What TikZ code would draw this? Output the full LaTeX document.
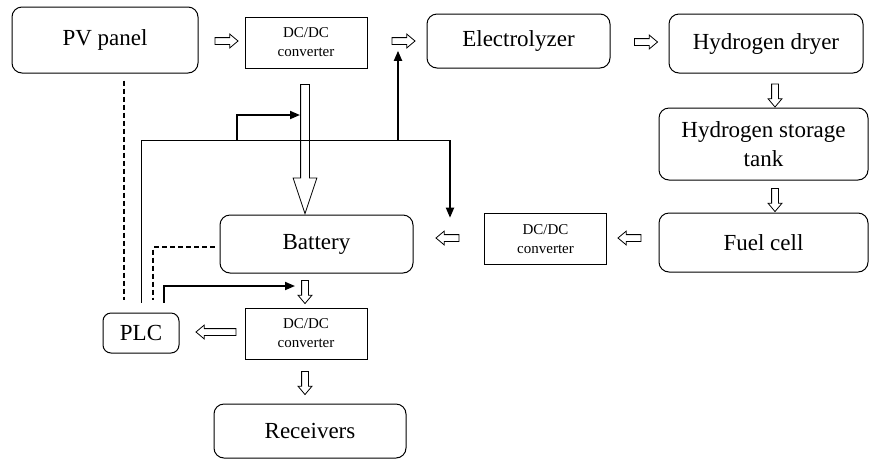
\documentclass[tikz,border=0pt]{standalone}
\usepackage{fontspec}
\setmainfont{Liberation Serif}
\usetikzlibrary{positioning, arrows.meta, calc, shapes.arrows}

\begin{document}
\begin{tikzpicture}[
    x=1pt, y=-1pt,
    block/.style={rectangle, draw, rounded corners=10pt, line width=1pt,
                  inner sep=0pt, align=center, font=\fontsize{23}{29}\selectfont},
    conv/.style={rectangle, draw, line width=0.9pt, minimum width=122pt, minimum height=51pt,
                 inner sep=0pt, align=center, font=\fontsize{15}{19}\selectfont},
    flow/.style={single arrow, draw, line width=0.8pt, inner xsep=0pt, inner ysep=3pt,
                 single arrow head extend=3.5pt, single arrow tip angle=80, minimum height=23pt},
    flowdown/.style={flow, inner xsep=3pt, inner ysep=0pt, shape border rotate=270},
    bigflow/.style={single arrow, draw, line width=0.8pt, inner xsep=4pt, inner ysep=0pt,
                    single arrow head extend=7.5pt, single arrow tip angle=37, minimum height=129pt,
                    shape border rotate=270},
    ctrl/.style={line width=1.8pt, -{Triangle[length=10pt, width=8pt]}},
    wire/.style={line width=1pt},
    sig/.style={line width=1.6pt, dash pattern=on 5pt off 3pt}
  ]
    \useasboundingbox (0,0) rectangle (870,459);

    % boxes
    \node[block, minimum width=186pt, minimum height=66pt] (pv) at (105,40) {PV panel};
    \node[conv] (dcpv) at (306,42.5) {DC/DC\\converter};
    \node[block, minimum width=183pt, minimum height=54pt] (elec) at (518.5,41) {Electrolyzer};
    \node[block, minimum width=194pt, minimum height=59pt] (dryer) at (766,43.5) {Hydrogen dryer};
    \node[block, minimum width=209pt, minimum height=72pt] (tank) at (763.5,144) {Hydrogen storage\\tank};
    \node[block, minimum width=209pt, minimum height=59pt] (fuel) at (763.5,242.5) {Fuel cell};
    \node[conv] (dcfc) at (545.5,239) {DC/DC\\converter};
    \node[block, minimum width=193pt, minimum height=58pt] (batt) at (316.5,244) {Battery};
    \node[block, rounded corners=8pt, minimum width=76pt, minimum height=40pt] (plc) at (141,333) {PLC};
    \node[conv] (dcload) at (306,333.5) {DC/DC\\converter};
    \node[block, minimum width=192pt, minimum height=54pt] (recv) at (310,431) {Receivers};

    % power flow arrows
    \node[flow] (pvdc) at (224.5,41) {};
    \node[flow] (dcel) at (401.5,41) {};
    \node[flow] (eldry) at (644,42) {};
    \node[flowdown] (drytank) at (775,93.5) {};
    \node[flowdown] (tankfc) at (775,198) {};
    \node[flow, shape border rotate=180] (fcdc) at (631.5,238) {};
    \node[flow, shape border rotate=180] (dcbatt) at (449.5,238) {};
    \node[flowdown] (battdc) at (305,290) {};
    \node[flow, shape border rotate=180, minimum height=40pt] (dcplc) at (218,332) {};
    \node[flowdown] (dcrecv) at (305,381) {};
    \node[bigflow] (dcbig) at (305,142.5) {};

    % control lines
    \coordinate (busE) at (450,140);
    \coordinate (stepS) at (237,140);
    \coordinate (stepE) at (300,115);
    \coordinate (upS) at (398,140);
    \coordinate (plcE) at (295,286);
    \draw[wire] ([yshift=10pt]plc.north) |- (busE);
    \draw[ctrl] (busE) -- ([yshift=16.5pt]dcbatt.north -| busE);
    \draw[ctrl] (stepS) |- (stepE);
    \draw[ctrl, shorten >=6pt] (upS) -- (upS |- dcel.south);
    \draw[ctrl] ([xshift=23pt, yshift=10pt]plc.north) |- (plcE);
    \draw[sig] ([xshift=19pt, yshift=-7pt]pv.south) -- ([xshift=-17pt, yshift=13pt]plc.north);
    \draw[sig] ([xshift=-5pt, yshift=-3pt]batt.west) -| ([xshift=12pt, yshift=13pt]plc.north);
  \end{tikzpicture}
\end{document}
